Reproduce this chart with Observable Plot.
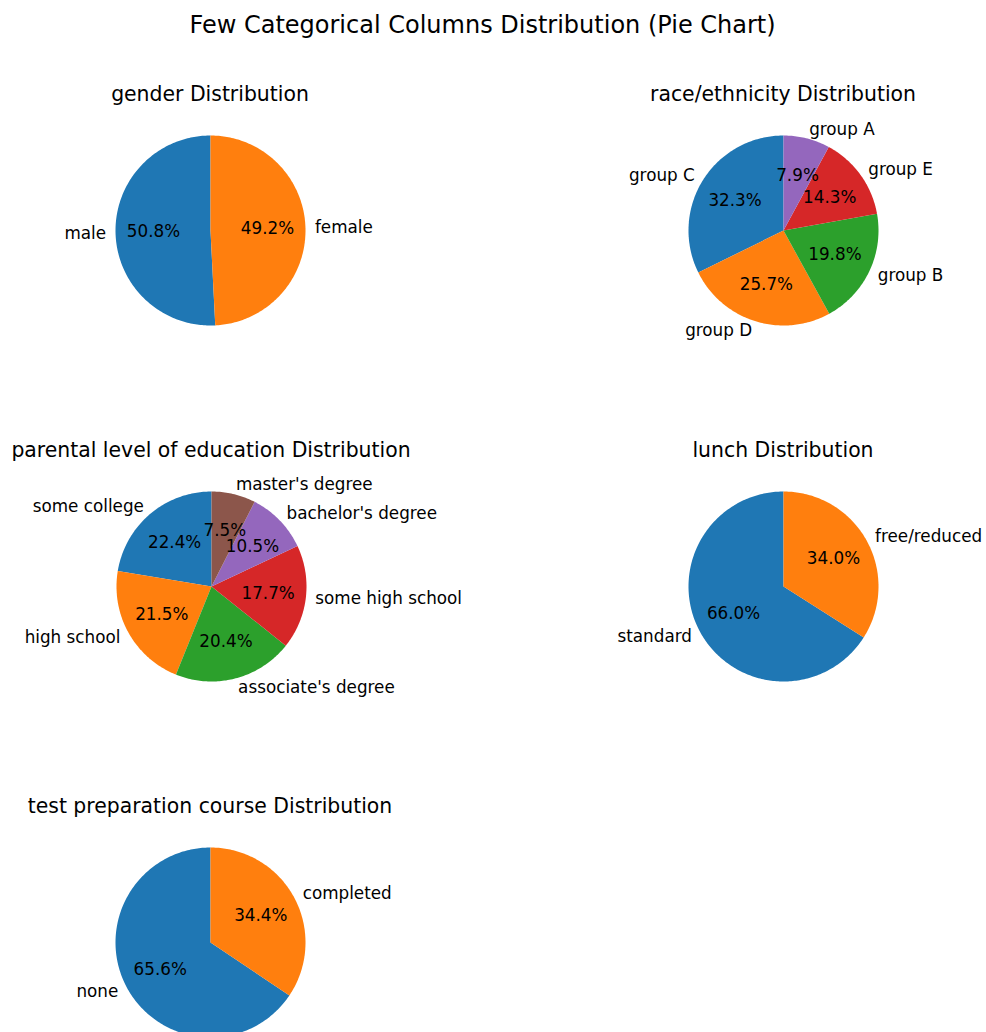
<!DOCTYPE html>
<html>
<head>
<meta charset="utf-8">
<script src="https://cdn.jsdelivr.net/npm/d3@7"></script>
<script src="https://cdn.jsdelivr.net/npm/@observablehq/plot@0.6"></script>
<style>
  html, body { margin: 0; padding: 0; background: #fff; width: 986px; height: 1032px; overflow: hidden; }
  body { position: relative; font-family: "DejaVu Sans", sans-serif; color: #000; }
  .suptitle { position: absolute; left: 0; width: 965px; top: 12px; font-size: 24px; line-height: 26px; text-align: center; white-space: nowrap; }
  .ptitle { position: absolute; width: 600px; font-size: 20.4px; line-height: 22px; text-align: center; white-space: nowrap; }
  .panel { position: absolute; }
  .panel svg { overflow: visible; max-width: none !important; }
</style>
</head>
<body>
<div class="suptitle">Few Categorical Columns Distribution (Pie Chart)</div>
<script>
// ---- data ----
const genderLabels = ["male", "female"];
const genderPct = [50.8, 49.2];

const raceLabels = ["group C", "group D", "group B", "group E", "group A"];
const racePct = [32.3, 25.7, 19.8, 14.3, 7.9];

const eduLabels = ["some college", "high school", "associate's degree", "some high school", "bachelor's degree", "master's degree"];
const eduPct = [22.4, 21.5, 20.4, 17.7, 10.5, 7.5];

const lunchLabels = ["standard", "free/reduced"];
const lunchPct = [66.0, 34.0];

const testLabels = ["none", "completed"];
const testPct = [65.6, 34.4];

const titles = ["gender Distribution", "race/ethnicity Distribution", "parental level of education Distribution", "lunch Distribution", "test preparation course Distribution"];

const tab10 = ["#1f77b4", "#ff7f0e", "#2ca02c", "#d62728", "#9467bd", "#8c564b", "#e377c2", "#7f7f7f", "#bcbd22", "#17becf"];

// ---- layout ----
const R = 95;             // pie radius in px
const W = 480, H = 340;   // panel svg size
const panels = [
  {labels: genderLabels, pct: genderPct, cx: 210, cy: 230},
  {labels: raceLabels, pct: racePct, cx: 783, cy: 230},
  {labels: eduLabels, pct: eduPct, cx: 211, cy: 586},
  {labels: lunchLabels, pct: lunchPct, cx: 783, cy: 586},
  {labels: testLabels, pct: testPct, cx: 210, cy: 942}
];

function buildPie(labels, pct) {
  const total = d3.sum(pct);
  let a = 90; // start angle (degrees), counterclockwise like matplotlib
  const wedges = [], texts = [];
  labels.forEach((lab, i) => {
    const sweep = 360 * pct[i] / total;
    const a1 = a, a2 = a + sweep;
    const ring = [[0, 0]];
    const n = Math.max(2, Math.ceil(sweep / 1));
    for (let k = 0; k <= n; k++) {
      const t = (a1 + (a2 - a1) * k / n) * Math.PI / 180;
      ring.push([Math.cos(t), Math.sin(t)]);
    }
    ring.push([0, 0]);
    wedges.push({type: "Feature", properties: {label: lab, color: tab10[i]}, geometry: {type: "Polygon", coordinates: [ring]}});
    const mid = ((a1 + a2) / 2) * Math.PI / 180;
    const cx = Math.cos(mid), sy = Math.sin(mid);
    texts.push({label: lab, pctText: pct[i].toFixed(1) + "%", lx: 1.1 * cx, ly: 1.1 * sy, px: 0.6 * cx, py: 0.6 * sy, right: cx > 0});
    a = a2;
  });
  return {wedges, texts};
}

panels.forEach((p, idx) => {
  const {wedges, texts} = buildPie(p.labels, p.pct);
  const hx = W / 2 / R, hy = H / 2 / R;
  const chart = Plot.plot({
    width: W,
    height: H,
    margin: 0,
    style: {fontFamily: "DejaVu Sans, sans-serif", fontSize: "16.8px", color: "#000", background: "transparent", maxWidth: "none"},
    projection: {type: "reflect-y", domain: {type: "MultiPoint", coordinates: [[-hx, -hy], [hx, hy]]}, inset: 0},
    marks: [
      Plot.geo(wedges, {fill: d => d.properties.color, stroke: null}),
      Plot.text(texts.filter(d => d.right), {x: "lx", y: "ly", text: "label", textAnchor: "start", lineAnchor: "middle", fill: "#000"}),
      Plot.text(texts.filter(d => !d.right), {x: "lx", y: "ly", text: "label", textAnchor: "end", lineAnchor: "middle", fill: "#000"}),
      Plot.text(texts, {x: "px", y: "py", text: "pctText", textAnchor: "middle", lineAnchor: "middle", fill: "#000"})
    ]
  });
  chart.setAttribute("width", W);
  chart.setAttribute("height", H);
  chart.style.width = W + "px";
  chart.style.height = H + "px";
  const div = document.createElement("div");
  div.className = "panel";
  div.style.left = (p.cx - W / 2) + "px";
  div.style.top = (p.cy - H / 2) + "px";
  div.style.width = W + "px";
  div.style.height = H + "px";
  div.appendChild(chart);
  document.body.appendChild(div);

  const t = document.createElement("div");
  t.className = "ptitle";
  t.textContent = titles[idx];
  t.style.left = (p.cx - 300) + "px";
  t.style.top = (p.cy - 136 - 11) + "px";
  document.body.appendChild(t);
});
</script>
</body>
</html>
